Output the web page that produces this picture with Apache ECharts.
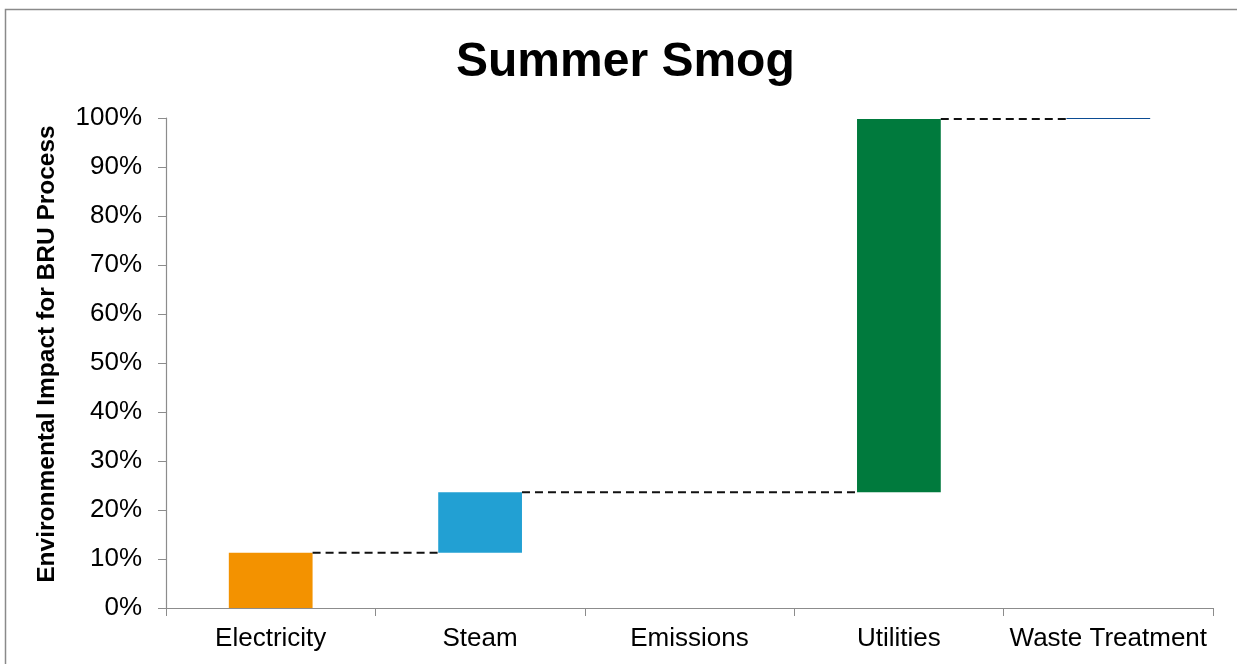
<!DOCTYPE html>
<html>
<head>
<meta charset="utf-8">
<title>Summer Smog</title>
<script src="https://cdn.jsdelivr.net/npm/echarts@6/dist/echarts.min.js"></script>
<style>
  html, body { margin: 0; padding: 0; background: #ffffff; }
  #chart { width: 1237px; height: 664px; }
</style>
</head>
<body>
<div id="chart"></div>
<script>
// Waterfall: contribution of each source to the BRU process impact (share of total, %)
const categories = ['Electricity', 'Steam', 'Emissions', 'Utilities', 'Waste Treatment'];
const impactShare = [11.3, 12.3, 0, 76.2, 0.2];
const barColors = ['#F39200', '#22A0D3', '#0E7B3E', '#007A3D', '#0B4C93'];
const yTicks = { min: 0, max: 100, interval: 10 };

// Running totals give the invisible base of each floating bar
const bases = [];
const tops = [];
let running = 0;
impactShare.forEach(function (v) {
  bases.push(running);
  running += v;
  tops.push(running);
});

// Dashed connectors join each visible bar's top to the next visible bar
const visible = impactShare.map(function (v, i) { return v > 0 ? i : -1; }).filter(function (i) { return i >= 0; });
const connectors = [];
for (let k = 0; k < visible.length - 1; k++) {
  connectors.push([visible[k], visible[k + 1], tops[visible[k]]]);
}

const BAR_RATIO = 0.4;
const FONT = 'Liberation Sans, Arial, sans-serif';

const chart = echarts.init(document.getElementById('chart'), null, { renderer: 'canvas' });

chart.setOption({
  animation: false,
  backgroundColor: '#ffffff',
  title: {
    text: 'Summer Smog',
    left: 456,
    top: 39,
    padding: 0,
    textStyle: {
      fontFamily: FONT,
      fontSize: 48,
      fontWeight: 'bold',
      color: '#000000'
    }
  },
  graphic: [{
    type: 'rect',
    silent: true,
    shape: { x: 5.5, y: 9.5, width: 1400, height: 800 },
    style: { fill: 'none', stroke: '#8a8a8a', lineWidth: 1.5 }
  }],
  grid: { left: 166, right: 24, top: 118, bottom: 56, containLabel: false },
  xAxis: {
    type: 'category',
    data: categories,
    boundaryGap: true,
    axisLine: { lineStyle: { color: '#8c8c8c', width: 1.2 } },
    axisTick: { show: true, alignWithLabel: false, length: 8, lineStyle: { color: '#8c8c8c' } },
    axisLabel: {
      margin: 18,
      interval: 0,
      color: '#000000',
      fontFamily: FONT,
      fontSize: 26
    },
    splitLine: { show: false }
  },
  yAxis: {
    type: 'value',
    min: yTicks.min,
    max: yTicks.max,
    interval: yTicks.interval,
    name: 'Environmental Impact for BRU Process',
    nameLocation: 'middle',
    nameGap: 106,
    nameRotate: 90,
    nameTextStyle: {
      fontFamily: FONT,
      fontSize: 24.5,
      fontWeight: 'bold',
      color: '#000000',
      padding: [0, 0, 0, 18]
    },
    axisLine: { show: true, lineStyle: { color: '#8c8c8c', width: 1.2 } },
    axisTick: { show: true, length: 8, lineStyle: { color: '#8c8c8c' } },
    axisLabel: {
      margin: 24,
      formatter: '{value}%',
      color: '#000000',
      fontFamily: FONT,
      fontSize: 26
    },
    splitLine: { show: false }
  },
  series: [
    {
      name: 'base',
      type: 'bar',
      stack: 'waterfall',
      barWidth: (BAR_RATIO * 100) + '%',
      silent: true,
      itemStyle: { color: 'transparent' },
      data: bases
    },
    {
      name: 'impact',
      type: 'bar',
      stack: 'waterfall',
      barWidth: (BAR_RATIO * 100) + '%',
      data: impactShare.map(function (v, i) {
        return { value: v, itemStyle: { color: barColors[i] } };
      })
    },
    {
      name: 'connectors',
      type: 'custom',
      z: 5,
      silent: true,
      data: connectors,
      renderItem: function (params, api) {
        const from = api.value(0);
        const to = api.value(1);
        const level = api.value(2);
        const halfBar = api.size([1, 0])[0] * BAR_RATIO / 2;
        const p1 = api.coord([from, level]);
        const p2 = api.coord([to, level]);
        return {
          type: 'line',
          shape: { x1: p1[0] + halfBar, y1: p1[1], x2: p2[0] - halfBar, y2: p2[1] },
          style: { stroke: '#111111', lineWidth: 2, lineDash: [8, 5] }
        };
      }
    }
  ]
});
</script>
</body>
</html>
